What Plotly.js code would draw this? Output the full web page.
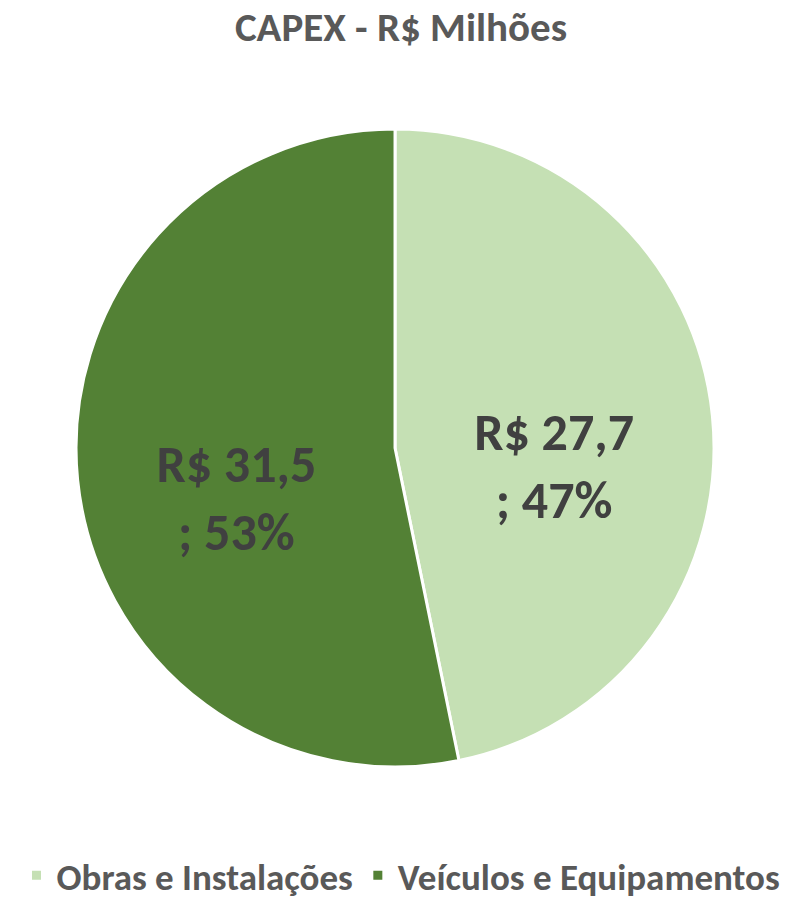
<!DOCTYPE html>
<html>
<head>
<meta charset="utf-8">
<script src="https://cdn.plot.ly/plotly-3.0.1.min.js"></script>
<style>
html,body{margin:0;padding:0;background:#fff;}
#chart{width:802px;height:899px;}
</style>
</head>
<body>
<div id="chart"></div>
<script>
const categories = ["Obras e Instalações", "Veículos e Equipamentos"];
const values = [27.7, 31.5];
const colors = ["#C5E0B4", "#538135"];
const chartTitle = "CAPEX - R$ Milhões";

const FONT = "Carlito, Calibri, 'Open Sans', 'Noto Sans', sans-serif";

const trace = {
  type: "pie",
  labels: categories,
  values: values,
  sort: false,
  direction: "clockwise",
  rotation: 0,
  marker: {colors: colors, line: {color: "#ffffff", width: 3}},
  texttemplate: "&nbsp;<br><b>R$ %{value:.1f}<br>; %{percent:.0%}</b>",
  textposition: "inside",
  insidetextorientation: "horizontal",
  textfont: {family: FONT, size: 52, color: "#404040"},
  hoverinfo: "none",
  domain: {x: [0.0948, 0.8903], y: [0.1468, 0.8565]}
};

const layout = {
  width: 802, height: 899,
  margin: {l: 0, r: 0, t: 0, b: 0, autoexpand: false},
  paper_bgcolor: "#ffffff",
  separators: ",.",
  title: {text: "<b>" + chartTitle + "</b>", x: 0.5, xanchor: "center", y: 0.97, yanchor: "middle",
          font: {family: FONT, size: 41, color: "#595959"}},
  showlegend: true,
  legend: {orientation: "h", x: 0.5, xanchor: "center", y: 0.026, yanchor: "middle",
           font: {family: FONT, size: 37, color: "#595959", weight: "bold"}, itemwidth: 30, traceorder: "normal"},
};

Plotly.newPlot("chart", [trace], layout, {displayModeBar: false});
</script>
</body>
</html>
